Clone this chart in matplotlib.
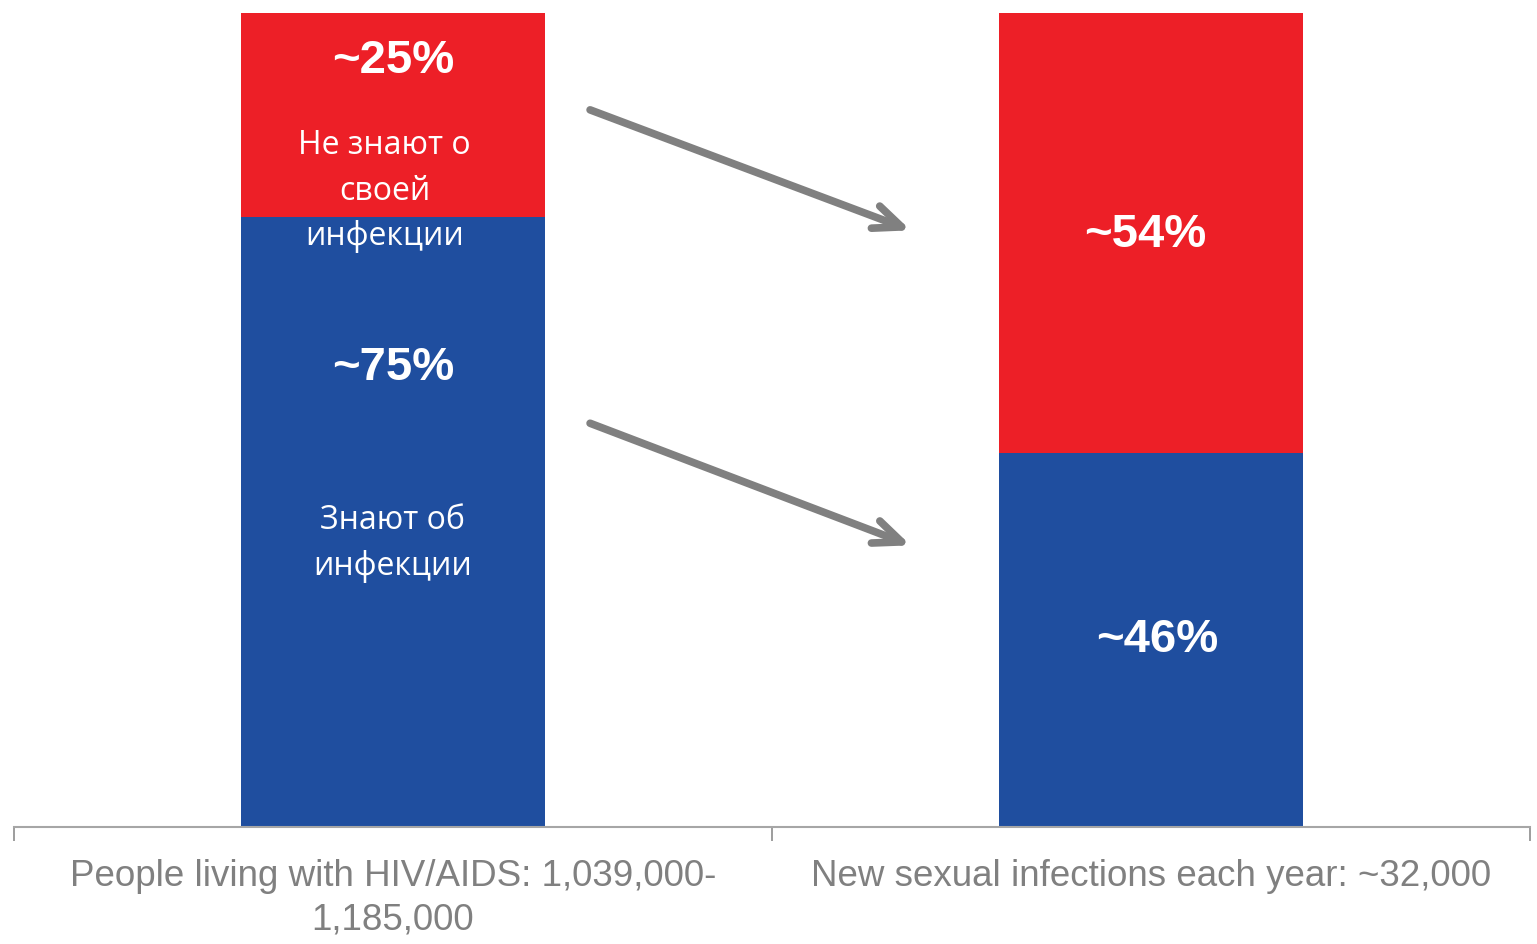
import matplotlib.pyplot as plt
import numpy as np

# Data
categories = ["People living with HIV/AIDS: 1,039,000-\n1,185,000",
              "New sexual infections each year: ~32,000"]
aware = [75, 46]      # blue, bottom
unaware = [25, 54]    # red, top
aware_labels = ["~75%", "~46%"]
unaware_labels = ["~25%", "~54%"]

blue = "#1f4e9f"
red = "#ed1f27"
grey = "#808080"

fig = plt.figure(figsize=(15.37, 9.44), dpi=100)
ax = fig.add_axes([14 / 1537, 117 / 944, 1516 / 1537, 814 / 944])

x = np.arange(len(categories))
ax.bar(x, aware, width=0.4, color=blue, zorder=2)
ax.bar(x, unaware, bottom=aware, width=0.4, color=red, zorder=2)

ax.set_xlim(-0.5, 1.5)
ax.set_ylim(0, 100)

# Percent labels
pct_kw = dict(color="white", fontsize=34, fontweight="bold",
              family="Liberation Sans", ha="center", va="center", zorder=4)
ax.text(x[0], 94.1, unaware_labels[0], **pct_kw)
ax.text(x[0], 56.4, aware_labels[0], **pct_kw)
ax.text(x[1] - 0.008, 72.7, unaware_labels[1], **pct_kw)
ax.text(x[1] + 0.008, 23.0, aware_labels[1], **pct_kw)

# Russian annotations
ru_kw = dict(color="white", fontsize=23, family="Open Sans",
             ha="center", va="center", linespacing=1.5, zorder=4)
ax.text(-0.011, 78.1, "Не знают о\nсвоей\nинфекции", **ru_kw)
ax.text(-0.001, 34.8, "Знают об\nинфекции", **ru_kw)

# Arrows
for y0, y1 in [(88.1, 73.3), (49.6, 34.6)]:
    ax.annotate("", xy=(0.683, y1), xytext=(0.260, y0),
                arrowprops=dict(arrowstyle="->,head_length=2.0,head_width=0.85",
                                color=grey, lw=5.5, capstyle="round",
                                joinstyle="round", shrinkA=0, shrinkB=0),
                zorder=3)

# Axes styling
for s in ["top", "right", "left"]:
    ax.spines[s].set_visible(False)
ax.spines["bottom"].set_color("#a6a6a6")
ax.spines["bottom"].set_linewidth(1.5)
ax.set_yticks([])
ax.set_xticks(x)
ax.set_xticklabels(categories, fontsize=26.5, color=grey, family="Liberation Sans",
                   linespacing=1.3)
ax.tick_params(axis="x", which="major", length=0, pad=23)
ax.set_xticks([-0.5, 0.5, 1.5], minor=True)
ax.tick_params(axis="x", which="minor", length=10, width=1.2, color="#8c8c8c",
               direction="out")

fig.savefig("out.png", dpi=100)
